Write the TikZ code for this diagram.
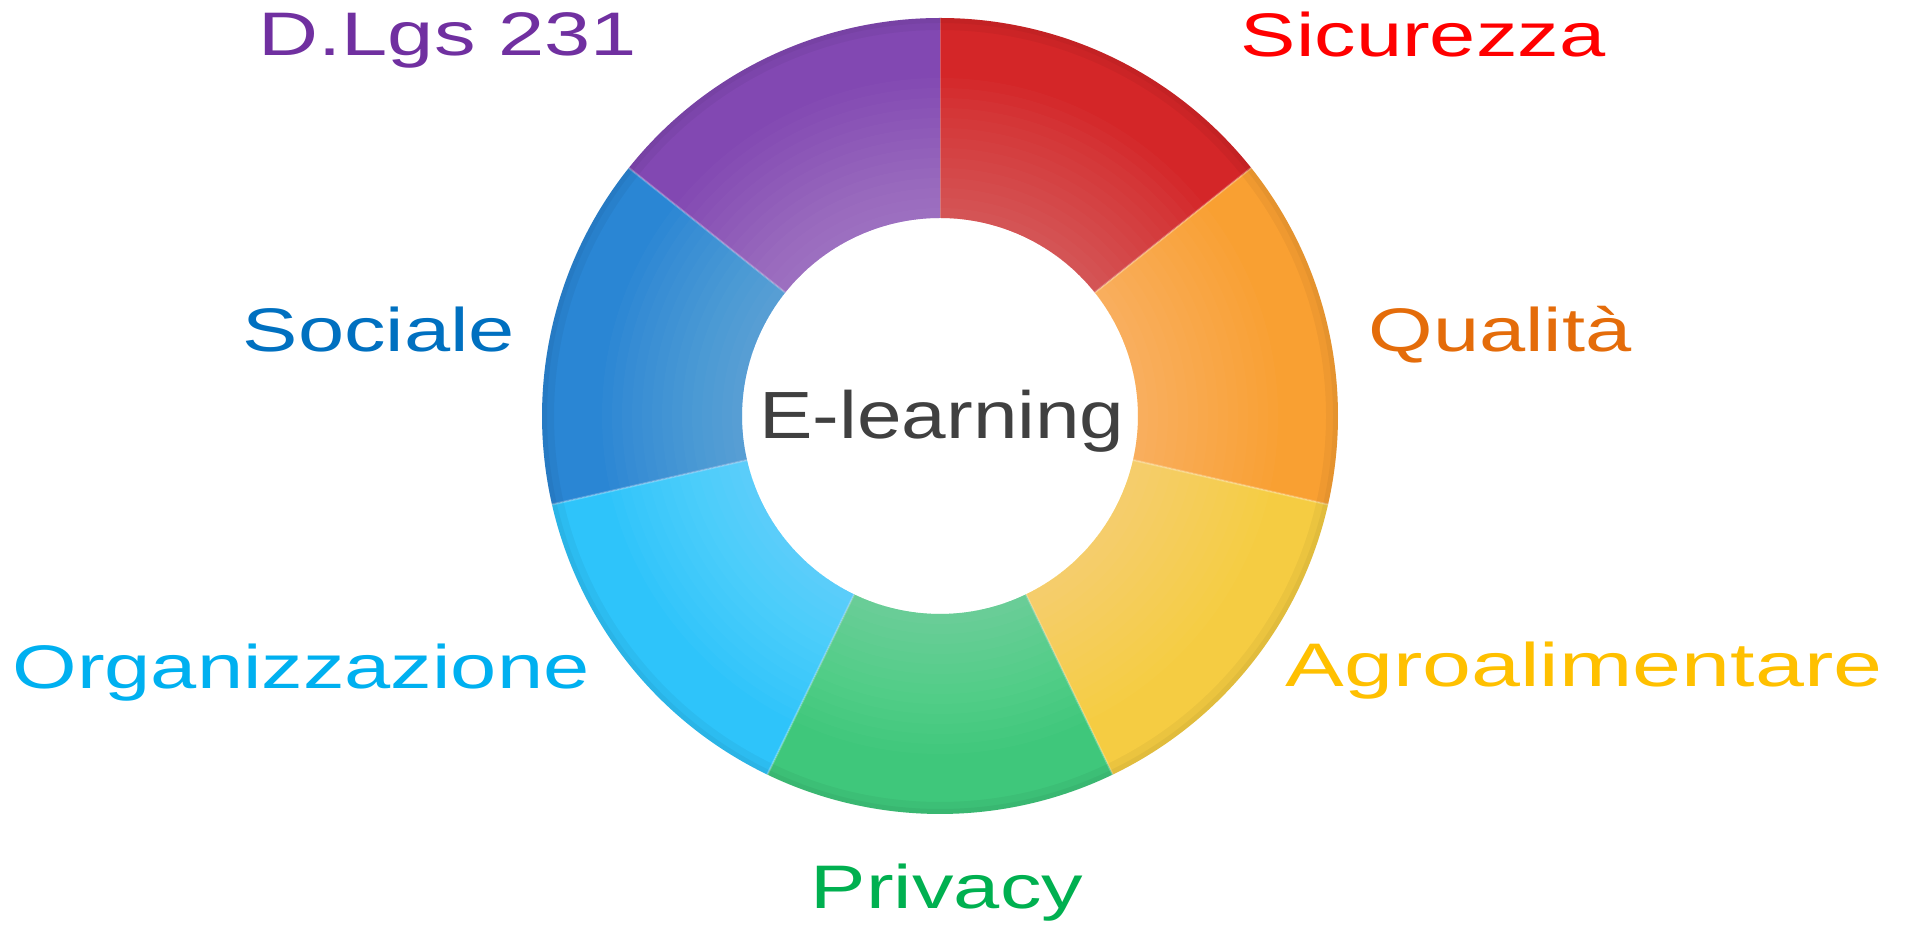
\documentclass[tikz,border=0pt]{standalone}
\usepackage{fontspec}
\usepackage{tikz}
\newfontfamily\labelfont[FakeStretch=1.35]{Liberation Sans}
\newfontfamily\centrefont[FakeStretch=1.2]{Liberation Sans}
\definecolor{sred}{HTML}{D42628}
\definecolor{sorange}{HTML}{F9A032}
\definecolor{syellow}{HTML}{F5CC42}
\definecolor{sgreen}{HTML}{3FC77B}
\definecolor{slightblue}{HTML}{2EC4FA}
\definecolor{sblue}{HTML}{2A86D4}
\definecolor{spurple}{HTML}{8248B2}
\definecolor{tred}{HTML}{FF0000}
\definecolor{torange}{HTML}{E46C0A}
\definecolor{tyellow}{HTML}{FFC000}
\definecolor{tgreen}{HTML}{00B050}
\definecolor{tlightblue}{HTML}{00B0F0}
\definecolor{tblue}{HTML}{0070C0}
\definecolor{tpurple}{HTML}{7030A0}
\definecolor{tgray}{HTML}{404040}

\begin{document}
\begin{tikzpicture}[x=0.2mm,y=0.2mm,
  lbl/.style={anchor=base,inner sep=0pt,font=\labelfont\fontsize{35}{40}\selectfont}]
\useasboundingbox (0,0) rectangle (1906,925);
\coordinate (ctr) at (940,509);
\foreach \c [count=\i] in {sred,sorange,syellow,sgreen,slightblue,sblue,spurple}
{
\pgfmathsetmacro\b{90-51.4286*(\i-1)}
\pgfmathsetmacro\a{\b-51.4286}
\fill[color=\c] ([shift={(\a:398)}]ctr) arc[start angle=\a,end angle=\b,radius=398]
  -- ([shift={(\b:198)}]ctr) arc[start angle=\b,end angle=\a,radius=198] -- cycle;
\draw[white,opacity=0.25,line width=1.2pt] ([shift={(\b:198)}]ctr) -- ([shift={(\b:398)}]ctr);
}
\foreach \r in {208,218,...,338}
  \fill[white,opacity=0.02,even odd rule] (ctr) circle[radius=\r] (ctr) circle[radius=198];
\fill[black,opacity=0.04,even odd rule] (ctr) circle[radius=398] (ctr) circle[radius=386];
\fill[black,opacity=0.04,even odd rule] (ctr) circle[radius=398] (ctr) circle[radius=393];
\node[lbl,color=tpurple] (dlgs) at (448,869) {D.Lgs 231};
\node[lbl,color=tred] (sicurezza) at (1423,868) {Sicurezza};
\node[lbl,color=tblue] (sociale) at (379,573) {Sociale};
\node[lbl,color=torange] (qualita) at (1500,573) {Qualità};
\node[lbl,color=tlightblue] (organizzazione) at (301,236) {Organizzazione};
\node[lbl,color=tyellow] (agro) at (1584,238) {\scalebox{1.06}[1]{Agroalimentare}};
\node[lbl,color=tgreen] (privacy) at (947,16) {Privacy};
\node[anchor=base,inner sep=0pt,color=tgray,font=\centrefont\fontsize{38}{44}\selectfont] (elearning) at (942,486) {E-learning};
\end{tikzpicture}
\end{document}
